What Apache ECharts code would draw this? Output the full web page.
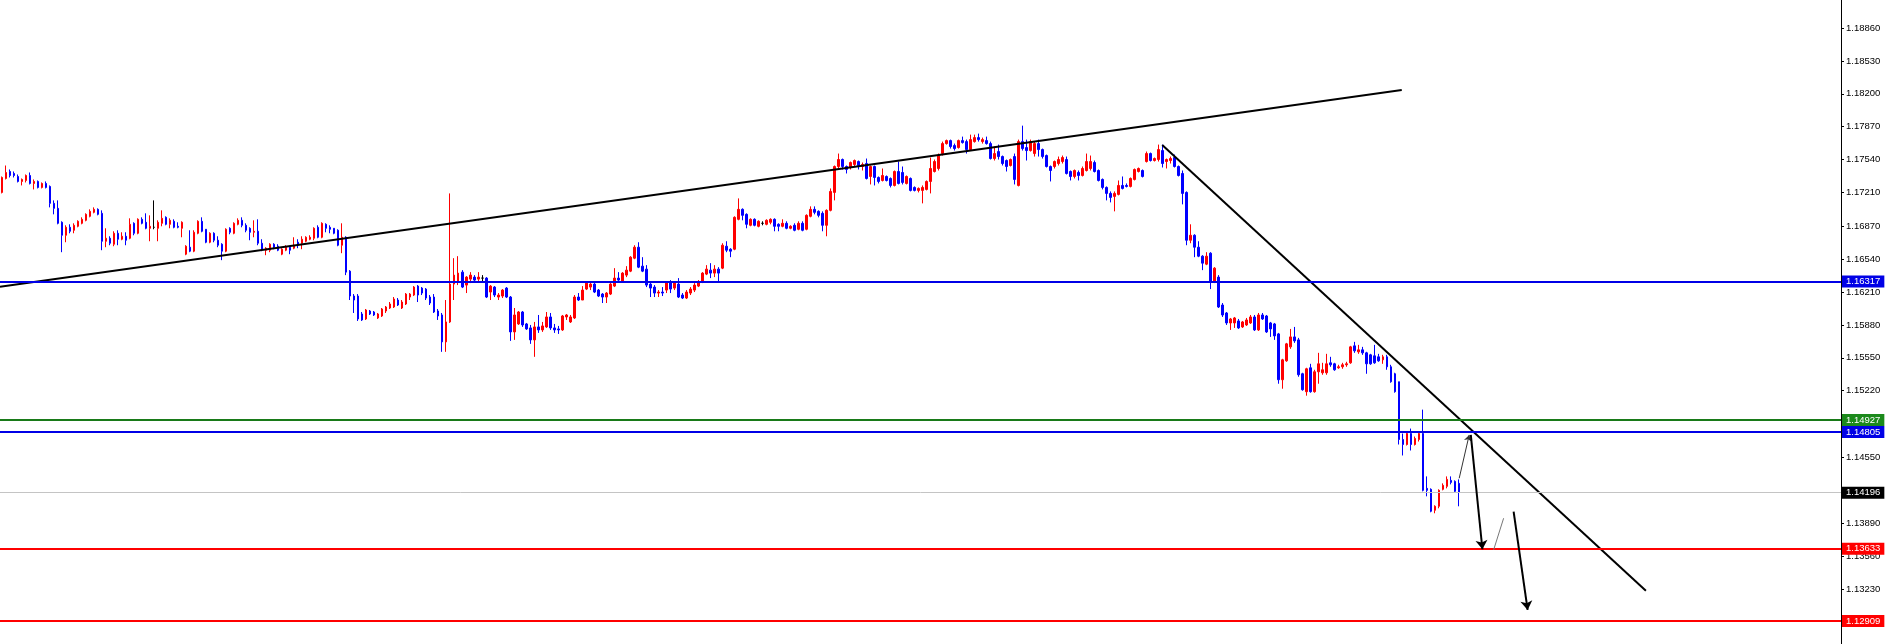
<!DOCTYPE html>
<html><head><meta charset="utf-8">
<script src="https://cdn.jsdelivr.net/npm/echarts@6/dist/echarts.min.js"></script>
<style>html,body{margin:0;padding:0;background:#fff}#c{width:1886px;height:644px}</style>
</head><body><div id="c"></div>
<script>
// candles: [open, close, low, high]
const ohlc = [
[1.1721,1.1736,1.1720,1.1737],[1.1735,1.1741,1.1734,1.1748],[1.1742,1.1738,1.1736,1.1744],[1.1740,1.1738,1.1736,1.1742],[1.1737,1.1732,1.1731,1.1739],
[1.1732,1.1734,1.1728,1.1735],[1.1733,1.1738,1.1731,1.1739],[1.1738,1.1730,1.1729,1.1741],[1.1730,1.1732,1.1724,1.1734],[1.1732,1.1726,1.1725,1.1733],
[1.1726,1.1730,1.1725,1.1731],[1.1730,1.1726,1.1725,1.1732],[1.1727,1.1710,1.1706,1.1728],[1.1710,1.1705,1.1699,1.1713],[1.1705,1.1690,1.1689,1.1713],
[1.1691,1.1678,1.1661,1.1692],[1.1678,1.1686,1.1671,1.1688],[1.1686,1.1682,1.1680,1.1689],[1.1683,1.1688,1.1680,1.1690],[1.1687,1.1692,1.1686,1.1693],
[1.1690,1.1694,1.1689,1.1696],[1.1693,1.1699,1.1692,1.1700],[1.1697,1.1702,1.1696,1.1704],[1.1701,1.1704,1.1700,1.1706],[1.1704,1.1699,1.1698,1.1705],
[1.1700,1.1672,1.1663,1.1703],[1.1672,1.1675,1.1666,1.1685],[1.1675,1.1670,1.1668,1.1677],[1.1669,1.1680,1.1667,1.1682],[1.1680,1.1674,1.1668,1.1683],
[1.1674,1.1677,1.1673,1.1681],[1.1677,1.1673,1.1668,1.1681],[1.1675,1.1689,1.1674,1.1695],[1.1690,1.1680,1.1678,1.1691],[1.1680,1.1694,1.1679,1.1695],
[1.1694,1.1690,1.1689,1.1696],[1.1691,1.1685,1.1684,1.1700],[1.1685,1.1687,1.1672,1.1698],[1.1686,1.1686,1.1684,1.1713],[1.1685,1.1691,1.1672,1.1693],
[1.1690,1.1695,1.1687,1.1703],[1.1696,1.1689,1.1688,1.1697],[1.1689,1.1693,1.1685,1.1695],[1.1692,1.1686,1.1685,1.1694],[1.1687,1.1686,1.1685,1.1691],
[1.1685,1.1691,1.1676,1.1692],[1.1659,1.1667,1.1658,1.1668],[1.1666,1.1662,1.1661,1.1683],[1.1662,1.1681,1.1661,1.1683],[1.1680,1.1692,1.1679,1.1693],
[1.1692,1.1682,1.1681,1.1696],[1.1684,1.1671,1.1670,1.1684],[1.1671,1.1680,1.1670,1.1681],[1.1680,1.1673,1.1671,1.1681],[1.1673,1.1668,1.1666,1.1677],
[1.1669,1.1662,1.1653,1.1670],[1.1662,1.1684,1.1661,1.1685],[1.1685,1.1681,1.1679,1.1686],[1.1680,1.1690,1.1679,1.1691],[1.1689,1.1693,1.1688,1.1695],
[1.1693,1.1688,1.1686,1.1696],[1.1688,1.1683,1.1681,1.1690],[1.1685,1.1681,1.1673,1.1686],[1.1681,1.1682,1.1676,1.1693],[1.1682,1.1670,1.1668,1.1694],
[1.1670,1.1664,1.1662,1.1674],[1.1663,1.1665,1.1658,1.1666],[1.1663,1.1669,1.1661,1.1670],[1.1669,1.1666,1.1664,1.1670],[1.1667,1.1663,1.1662,1.1669],
[1.1659,1.1664,1.1658,1.1665],[1.1663,1.1666,1.1662,1.1668],[1.1666,1.1663,1.1659,1.1667],[1.1665,1.1668,1.1664,1.1676],[1.1671,1.1668,1.1665,1.1674],
[1.1670,1.1674,1.1664,1.1677],[1.1672,1.1676,1.1671,1.1677],[1.1674,1.1676,1.1673,1.1678],[1.1675,1.1685,1.1673,1.1686],[1.1686,1.1676,1.1675,1.1688],
[1.1676,1.1690,1.1675,1.1691],[1.1689,1.1685,1.1681,1.1690],[1.1686,1.1684,1.1680,1.1688],[1.1685,1.1680,1.1679,1.1685],[1.1683,1.1668,1.1667,1.1684],
[1.1668,1.1676,1.1660,1.1690],[1.1676,1.1641,1.1638,1.1677],[1.1642,1.1617,1.1613,1.1643],[1.1617,1.1613,1.1600,1.1619],[1.1617,1.1594,1.1592,1.1619],
[1.1599,1.1593,1.1592,1.1601],[1.1594,1.1603,1.1593,1.1604],[1.1602,1.1599,1.1598,1.1603],[1.1601,1.1598,1.1597,1.1602],[1.1595,1.1599,1.1594,1.1600],
[1.1597,1.1604,1.1596,1.1605],[1.1602,1.1606,1.1600,1.1607],[1.1605,1.1609,1.1604,1.1611],[1.1606,1.1614,1.1605,1.1616],[1.1613,1.1608,1.1607,1.1615],
[1.1605,1.1611,1.1604,1.1613],[1.1609,1.1619,1.1608,1.1620],[1.1616,1.1619,1.1613,1.1620],[1.1618,1.1626,1.1617,1.1627],[1.1627,1.1618,1.1611,1.1628],
[1.1625,1.1620,1.1618,1.1626],[1.1624,1.1615,1.1613,1.1625],[1.1616,1.1610,1.1608,1.1618],[1.1616,1.1601,1.1600,1.1619],[1.1602,1.1597,1.1593,1.1604],
[1.1598,1.1571,1.1561,1.1600],[1.1571,1.1591,1.1561,1.1613],[1.1591,1.1629,1.1590,1.1720],[1.1629,1.1638,1.1613,1.1655],[1.1631,1.1640,1.1628,1.1657],
[1.1641,1.1626,1.1625,1.1643],[1.1628,1.1636,1.1620,1.1637],[1.1634,1.1638,1.1630,1.1641],[1.1636,1.1633,1.1632,1.1638],[1.1634,1.1636,1.1631,1.1641],
[1.1635,1.1635,1.1632,1.1638],[1.1635,1.1616,1.1615,1.1636],[1.1621,1.1627,1.1613,1.1628],[1.1626,1.1618,1.1616,1.1627],[1.1616,1.1618,1.1613,1.1620],
[1.1617,1.1623,1.1615,1.1624],[1.1625,1.1616,1.1615,1.1626],[1.1616,1.1581,1.1572,1.1617],[1.1581,1.1598,1.1573,1.1605],[1.1589,1.1601,1.1588,1.1602],
[1.1601,1.1588,1.1586,1.1602],[1.1589,1.1584,1.1583,1.1590],[1.1585,1.1573,1.1569,1.1588],[1.1573,1.1586,1.1556,1.1591],[1.1586,1.1583,1.1580,1.1598],
[1.1583,1.1587,1.1581,1.1591],[1.1586,1.1596,1.1585,1.1601],[1.1596,1.1585,1.1583,1.1600],[1.1585,1.1583,1.1580,1.1589],[1.1584,1.1583,1.1579,1.1587],
[1.1583,1.1597,1.1582,1.1598],[1.1596,1.1598,1.1593,1.1599],[1.1591,1.1596,1.1590,1.1598],[1.1595,1.1616,1.1594,1.1618],[1.1616,1.1613,1.1612,1.1620],
[1.1613,1.1623,1.1613,1.1627],[1.1624,1.1630,1.1623,1.1631],[1.1626,1.1629,1.1623,1.1630],[1.1629,1.1621,1.1620,1.1630],[1.1623,1.1617,1.1616,1.1624],
[1.1619,1.1616,1.1610,1.1620],[1.1616,1.1620,1.1610,1.1621],[1.1619,1.1629,1.1618,1.1630],[1.1627,1.1635,1.1626,1.1645],[1.1635,1.1633,1.1631,1.1641],
[1.1632,1.1640,1.1631,1.1641],[1.1638,1.1643,1.1636,1.1647],[1.1642,1.1656,1.1641,1.1657],[1.1655,1.1666,1.1654,1.1668],[1.1666,1.1646,1.1645,1.1671],
[1.1647,1.1642,1.1641,1.1656],[1.1644,1.1628,1.1626,1.1648],[1.1629,1.1625,1.1616,1.1630],[1.1626,1.1620,1.1616,1.1628],[1.1620,1.1621,1.1616,1.1623],
[1.1621,1.1620,1.1617,1.1626],[1.1623,1.1631,1.1620,1.1632],[1.1631,1.1624,1.1620,1.1633],[1.1625,1.1630,1.1623,1.1631],[1.1629,1.1616,1.1615,1.1635],
[1.1618,1.1615,1.1614,1.1620],[1.1615,1.1621,1.1614,1.1623],[1.1620,1.1624,1.1618,1.1626],[1.1623,1.1628,1.1621,1.1630],[1.1627,1.1631,1.1626,1.1633],
[1.1632,1.1640,1.1630,1.1641],[1.1639,1.1644,1.1638,1.1648],[1.1643,1.1640,1.1635,1.1650],[1.1640,1.1644,1.1636,1.1648],[1.1644,1.1640,1.1632,1.1646],
[1.1645,1.1668,1.1644,1.1670],[1.1667,1.1663,1.1661,1.1672],[1.1664,1.1662,1.1656,1.1665],[1.1664,1.1696,1.1663,1.1697],[1.1694,1.1704,1.1693,1.1715],
[1.1704,1.1698,1.1693,1.1705],[1.1699,1.1689,1.1685,1.1700],[1.1688,1.1694,1.1687,1.1695],[1.1694,1.1688,1.1687,1.1695],[1.1687,1.1692,1.1686,1.1693],
[1.1690,1.1690,1.1688,1.1692],[1.1689,1.1693,1.1688,1.1694],[1.1691,1.1694,1.1689,1.1695],[1.1694,1.1687,1.1682,1.1695],[1.1689,1.1687,1.1682,1.1690],
[1.1687,1.1690,1.1686,1.1694],[1.1690,1.1685,1.1684,1.1692],[1.1685,1.1687,1.1684,1.1688],[1.1688,1.1683,1.1682,1.1690],[1.1684,1.1690,1.1683,1.1692],
[1.1690,1.1683,1.1682,1.1692],[1.1684,1.1698,1.1683,1.1699],[1.1697,1.1704,1.1696,1.1707],[1.1704,1.1701,1.1699,1.1707],[1.1702,1.1698,1.1696,1.1703],
[1.1700,1.1688,1.1682,1.1702],[1.1688,1.1703,1.1677,1.1704],[1.1703,1.1722,1.1702,1.1725],[1.1721,1.1747,1.1713,1.1748],[1.1747,1.1754,1.1745,1.1760],
[1.1754,1.1747,1.1744,1.1755],[1.1747,1.1744,1.1740,1.1748],[1.1746,1.1751,1.1744,1.1752],[1.1749,1.1753,1.1747,1.1754],[1.1752,1.1748,1.1744,1.1753],
[1.1747,1.1749,1.1743,1.1751],[1.1750,1.1735,1.1734,1.1755],[1.1737,1.1747,1.1729,1.1748],[1.1747,1.1736,1.1728,1.1748],[1.1736,1.1732,1.1730,1.1737],
[1.1733,1.1738,1.1732,1.1745],[1.1737,1.1733,1.1732,1.1738],[1.1735,1.1728,1.1726,1.1736],[1.1728,1.1742,1.1727,1.1743],[1.1742,1.1730,1.1729,1.1752],
[1.1741,1.1731,1.1729,1.1747],[1.1730,1.1737,1.1729,1.1738],[1.1735,1.1723,1.1722,1.1736],[1.1726,1.1723,1.1722,1.1727],[1.1723,1.1725,1.1721,1.1726],
[1.1723,1.1726,1.1710,1.1728],[1.1724,1.1732,1.1723,1.1733],[1.1732,1.1745,1.1720,1.1756],[1.1742,1.1752,1.1741,1.1754],[1.1745,1.1758,1.1743,1.1760],
[1.1760,1.1770,1.1758,1.1772],[1.1770,1.1773,1.1769,1.1774],[1.1773,1.1767,1.1765,1.1774],[1.1768,1.1765,1.1763,1.1770],[1.1766,1.1773,1.1765,1.1774],
[1.1773,1.1771,1.1770,1.1777],[1.1772,1.1764,1.1760,1.1774],[1.1764,1.1774,1.1763,1.1779],[1.1772,1.1776,1.1771,1.1779],[1.1776,1.1774,1.1772,1.1780],
[1.1772,1.1774,1.1770,1.1776],[1.1773,1.1770,1.1769,1.1777],[1.1770,1.1755,1.1754,1.1772],[1.1755,1.1760,1.1753,1.1767],[1.1762,1.1757,1.1754,1.1769],
[1.1757,1.1750,1.1748,1.1758],[1.1753,1.1747,1.1742,1.1754],[1.1748,1.1754,1.1747,1.1755],[1.1757,1.1734,1.1729,1.1760],[1.1728,1.1772,1.1727,1.1774],
[1.1772,1.1765,1.1763,1.1788],[1.1766,1.1763,1.1753,1.1774],[1.1763,1.1772,1.1762,1.1774],[1.1760,1.1770,1.1757,1.1772],[1.1770,1.1764,1.1757,1.1774],
[1.1764,1.1757,1.1755,1.1765],[1.1758,1.1747,1.1746,1.1759],[1.1747,1.1743,1.1732,1.1748],[1.1747,1.1752,1.1745,1.1753],[1.1750,1.1754,1.1748,1.1757],
[1.1752,1.1756,1.1750,1.1758],[1.1754,1.1740,1.1739,1.1757],[1.1742,1.1737,1.1733,1.1743],[1.1737,1.1743,1.1735,1.1744],[1.1741,1.1738,1.1733,1.1743],
[1.1738,1.1745,1.1737,1.1747],[1.1743,1.1752,1.1742,1.1760],[1.1745,1.1752,1.1743,1.1758],[1.1751,1.1742,1.1741,1.1753],[1.1743,1.1733,1.1732,1.1744],
[1.1734,1.1726,1.1724,1.1735],[1.1726,1.1720,1.1713,1.1727],[1.1720,1.1716,1.1711,1.1722],[1.1717,1.1720,1.1702,1.1722],[1.1719,1.1728,1.1718,1.1733],
[1.1728,1.1725,1.1724,1.1737],[1.1728,1.1727,1.1726,1.1730],[1.1727,1.1735,1.1726,1.1736],[1.1734,1.1744,1.1733,1.1745],[1.1742,1.1745,1.1741,1.1746],
[1.1743,1.1737,1.1736,1.1744],[1.1752,1.1760,1.1751,1.1762],[1.1760,1.1753,1.1752,1.1761],[1.1753,1.1755,1.1752,1.1756],[1.1754,1.1764,1.1752,1.1769],
[1.1763,1.1750,1.1746,1.1769],[1.1752,1.1754,1.1745,1.1755],[1.1753,1.1755,1.1750,1.1757],[1.1756,1.1747,1.1746,1.1759],[1.1747,1.1738,1.1737,1.1748],
[1.1740,1.1720,1.1709,1.1743],[1.1721,1.1673,1.1668,1.1722],[1.1673,1.1678,1.1670,1.1689],[1.1678,1.1666,1.1656,1.1679],[1.1666,1.1657,1.1656,1.1672],
[1.1657,1.1650,1.1643,1.1658],[1.1649,1.1657,1.1648,1.1661],[1.1660,1.1631,1.1624,1.1661],[1.1631,1.1645,1.1630,1.1646],[1.1636,1.1606,1.1605,1.1638],
[1.1608,1.1598,1.1596,1.1610],[1.1600,1.1590,1.1588,1.1601],[1.1590,1.1594,1.1583,1.1595],[1.1590,1.1595,1.1585,1.1596],[1.1592,1.1585,1.1584,1.1594],
[1.1586,1.1591,1.1585,1.1592],[1.1588,1.1593,1.1587,1.1595],[1.1590,1.1596,1.1589,1.1598],[1.1596,1.1583,1.1582,1.1598],[1.1583,1.1598,1.1582,1.1600],
[1.1598,1.1594,1.1593,1.1600],[1.1597,1.1581,1.1580,1.1598],[1.1590,1.1584,1.1576,1.1591],[1.1589,1.1577,1.1573,1.1590],[1.1579,1.1533,1.1529,1.1580],
[1.1533,1.1553,1.1524,1.1554],[1.1552,1.1569,1.1551,1.1570],[1.1566,1.1576,1.1564,1.1584],[1.1576,1.1572,1.1570,1.1586],[1.1573,1.1538,1.1536,1.1575],
[1.1539,1.1523,1.1522,1.1540],[1.1521,1.1544,1.1517,1.1545],[1.1545,1.1521,1.1520,1.1549],[1.1521,1.1541,1.1520,1.1543],[1.1541,1.1549,1.1529,1.1560],
[1.1540,1.1543,1.1538,1.1550],[1.1540,1.1549,1.1538,1.1559],[1.1550,1.1548,1.1546,1.1556],[1.1549,1.1543,1.1542,1.1550],[1.1545,1.1546,1.1544,1.1548],
[1.1546,1.1548,1.1544,1.1550],[1.1548,1.1549,1.1546,1.1551],[1.1550,1.1566,1.1549,1.1567],[1.1567,1.1562,1.1560,1.1571],[1.1561,1.1563,1.1559,1.1568],
[1.1563,1.1560,1.1558,1.1566],[1.1560,1.1549,1.1539,1.1561],[1.1558,1.1549,1.1548,1.1559],[1.1557,1.1550,1.1549,1.1568],[1.1556,1.1552,1.1551,1.1559],
[1.1553,1.1556,1.1549,1.1558],[1.1556,1.1546,1.1543,1.1558],[1.1546,1.1531,1.1530,1.1548],[1.1539,1.1521,1.1520,1.1540],[1.1531,1.1473,1.1468,1.1531],
[1.1473,1.1468,1.1457,1.1479],[1.1468,1.1479,1.1467,1.1481],[1.1479,1.1468,1.1462,1.1484],[1.1468,1.1474,1.1467,1.1476],[1.1473,1.1479,1.1471,1.1481],
[1.1479,1.1422,1.1421,1.1503],[1.1424,1.1422,1.1416,1.1436],[1.1423,1.1401,1.1400,1.1424],[1.1402,1.1406,1.1399,1.1407],[1.1406,1.1422,1.1404,1.1423],
[1.1423,1.1427,1.1422,1.1429],[1.1426,1.1433,1.1424,1.1436],[1.1432,1.1430,1.1428,1.1436],[1.1431,1.1421,1.1420,1.1432],[1.1429,1.1420,1.1406,1.1433]
];
const slotCount = 460;                       // bar slots across the visible window
const priceMin = 1.12678, priceMax = 1.19141; // visible price window
const tickValues = [1.18860,1.18530,1.18200,1.17870,1.17540,1.17210,1.16870,1.16540,1.16210,1.15880,1.15550,1.15220,1.14890,1.14550,1.14220,1.13890,1.13560,1.13230,1.12900];
const levelValues = [1.16317, 1.14927, 1.14805, 1.14196, 1.13633, 1.12909];
// trend lines: [[barIndex, price], [barIndex, price]]
const trendLines = [
  [[-0.5, 1.16262], [349.75, 1.18237]],
  [[289.9, 1.17686], [410.75, 1.13213]]
];
const arrowLines = [
  [[364.1, 1.14341], [366.6, 1.14776]],
  [[367.0, 1.14776], [369.9, 1.13629]],
  [[372.7, 1.13622], [375.2, 1.13940]],
  [[377.7, 1.14006], [381.2, 1.13020]]
];

// ---- styles ----
const levelStyles = [
  {line:'#0000e6', box:'#0000e6', w:2},
  {line:'#187a18', box:'#1c8a1c', w:2},
  {line:'#0000e6', box:'#0000e6', w:2},
  {line:'#c4c4c4', box:'#000000', w:1},
  {line:'#ff0000', box:'#ff0000', w:2},
  {line:'#ff0000', box:'#ff0000', w:2}
];
const arrowStyles = [
  {c:'#333', w:1, head:true, s:6},
  {c:'#000', w:2, head:true, s:9},
  {c:'#777', w:1, head:false, s:0},
  {c:'#000', w:2, head:true, s:9}
];
const FONT = 'Liberation Sans';

const chart = echarts.init(document.getElementById('c'), null, {renderer:'canvas'});
const cats = Array.from({length: slotCount}, (_, i) => String(i));

const option = {
  animation: false,
  backgroundColor: '#ffffff',
  grid: {left: 0, right: 45, top: 0, bottom: 0, containLabel: false},
  xAxis: [
    {type:'category', data: cats, show:false, boundaryGap:true},
    {type:'value', min:-0.5, max: slotCount - 0.5, show:false}
  ],
  yAxis: {
    type:'value', position:'right', min: priceMin, max: priceMax,
    splitLine:{show:false},
    axisLine:{show:true, onZero:false, lineStyle:{color:'#000', width:1}},
    axisTick:{show:true, customValues: tickValues, length:3, inside:false, lineStyle:{color:'#000'}},
    axisLabel:{customValues: tickValues, formatter: v => Number(v).toFixed(5), color:'#000',
      fontSize:9.5, fontFamily: FONT, margin:5}
  },
  series: [
    {
      type:'candlestick', xAxisIndex:0, yAxisIndex:0, data: ohlc, barWidth:2,
      itemStyle:{color:'#ff0000', color0:'#0000ff', borderColor:'#ff0000', borderColor0:'#0000ff',
        borderColorDoji:'#000000', borderWidth:1},
      silent:true,
      markLine:{
        silent:true, symbol:['none','none'], animation:false, precision:5,
        data: levelValues.map((v, k) => ({
          yAxis: v,
          lineStyle:{color: levelStyles[k].line, width: levelStyles[k].w, type:'solid'},
          label:{show:true, position:'end', distance:1, formatter: () => v.toFixed(5),
            color:'#fff', backgroundColor: levelStyles[k].box, fontSize:9.5, fontFamily: FONT,
            padding:[1,4,1,4], lineHeight:10}
        }))
      }
    },
    ...trendLines.map((t, k) => ({
      type:'line', xAxisIndex:1, yAxisIndex:0, data:t, symbol:'none', silent:true, z:4,
      lineStyle:{color:'#000', width:2},
      markLine: k === 0 ? {
        silent:true, animation:false, label:{show:false},
        data: arrowLines.map((a, j) => [
          {coord:a[0], symbol:'none', lineStyle:{color:arrowStyles[j].c, width:arrowStyles[j].w, type:'solid'}},
          {coord:a[1], symbol: arrowStyles[j].head ? 'arrow' : 'none', symbolSize: arrowStyles[j].s,
           lineStyle:{color:arrowStyles[j].c, width:arrowStyles[j].w, type:'solid'}}
        ])
      } : undefined
    }))
  ]
};
chart.setOption(option);
</script>
</body></html>
